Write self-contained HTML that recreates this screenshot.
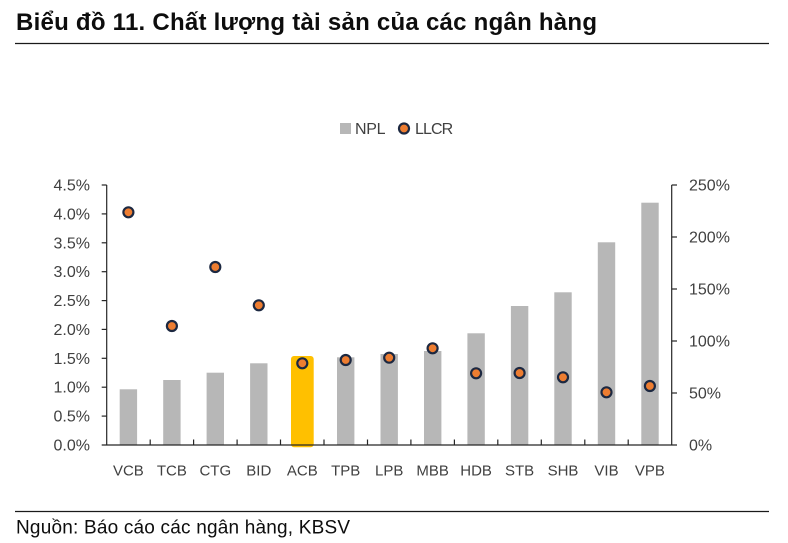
<!DOCTYPE html>
<html>
<head>
<meta charset="utf-8">
<style>
  html, body { margin:0; padding:0; background:#ffffff; }
  body { width:788px; height:543px; overflow:hidden; }
  svg { display:block; }
  text { font-family: "Liberation Sans", "Noto Sans CJK SC", sans-serif; }
</style>
</head>
<body>
<svg width="788" height="543" viewBox="0 0 788 543" xmlns="http://www.w3.org/2000/svg">
  <rect width="788" height="543" fill="#ffffff"/>

  <!-- Title -->
  <text x="16" y="30" font-size="24" font-weight="bold" fill="#0d0d0d" letter-spacing="0.25">Biểu đồ 11. Chất lượng tài sản của các ngân hàng</text>
  <line x1="15" y1="43.5" x2="769" y2="43.5" stroke="#1a1a1a" stroke-width="1.3"/>

  <!-- Legend -->
  <rect x="340" y="123" width="11" height="11" fill="#b7b7b7"/>
  <text x="355" y="134" font-size="16" fill="#404040" letter-spacing="-0.3">NPL</text>
  <circle cx="404" cy="128.5" r="5" fill="#ed7d31" stroke="#1c2841" stroke-width="2.2"/>
  <text x="415" y="134" font-size="16" fill="#404040" letter-spacing="-0.9">LLCR</text>

  <!-- Bars (NPL) -->
  <g fill="#b7b7b7">
    <rect x="119.7" y="389.3" width="17.4" height="55.7"/>
    <rect x="163.2" y="380" width="17.4" height="65"/>
    <rect x="206.6" y="372.7" width="17.4" height="72.3"/>
    <rect x="250.1" y="363.3" width="17.4" height="81.7"/>
    <rect x="337" y="357.3" width="17.4" height="87.7"/>
    <rect x="380.5" y="354" width="17.4" height="91"/>
    <rect x="424" y="351" width="17.4" height="94"/>
    <rect x="467.4" y="333.3" width="17.4" height="111.7"/>
    <rect x="510.9" y="306" width="17.4" height="139"/>
    <rect x="554.3" y="292.3" width="17.4" height="152.7"/>
    <rect x="597.8" y="242.3" width="17.4" height="202.7"/>
    <rect x="641.3" y="202.7" width="17.4" height="242.3"/>
  </g>
  <!-- Highlighted ACB -->
  <rect x="291" y="356" width="22.7" height="91.3" rx="3" ry="3" fill="#ffc000"/>

  <!-- Axes -->
  <g stroke="#262626" stroke-width="1.2">
    <line x1="106.7" y1="185" x2="106.7" y2="445"/>
    <line x1="101.7" y1="185" x2="106.7" y2="185"/>
    <line x1="101.7" y1="213.9" x2="106.7" y2="213.9"/>
    <line x1="101.7" y1="242.8" x2="106.7" y2="242.8"/>
    <line x1="101.7" y1="271.7" x2="106.7" y2="271.7"/>
    <line x1="101.7" y1="300.6" x2="106.7" y2="300.6"/>
    <line x1="101.7" y1="329.4" x2="106.7" y2="329.4"/>
    <line x1="101.7" y1="358.3" x2="106.7" y2="358.3"/>
    <line x1="101.7" y1="387.2" x2="106.7" y2="387.2"/>
    <line x1="101.7" y1="416.1" x2="106.7" y2="416.1"/>
    <line x1="101.7" y1="445" x2="677" y2="445"/>
    <line x1="671.7" y1="185" x2="671.7" y2="445"/>
    <line x1="671.7" y1="185" x2="677" y2="185"/>
    <line x1="671.7" y1="237" x2="677" y2="237"/>
    <line x1="671.7" y1="289" x2="677" y2="289"/>
    <line x1="671.7" y1="341" x2="677" y2="341"/>
    <line x1="671.7" y1="393" x2="677" y2="393"/>
    <line x1="150.2" y1="439.5" x2="150.2" y2="445"/>
    <line x1="193.6" y1="439.5" x2="193.6" y2="445"/>
    <line x1="237.1" y1="439.5" x2="237.1" y2="445"/>
    <line x1="280.5" y1="439.5" x2="280.5" y2="445"/>
    <line x1="324" y1="439.5" x2="324" y2="445"/>
    <line x1="367.5" y1="439.5" x2="367.5" y2="445"/>
    <line x1="410.9" y1="439.5" x2="410.9" y2="445"/>
    <line x1="454.4" y1="439.5" x2="454.4" y2="445"/>
    <line x1="497.8" y1="439.5" x2="497.8" y2="445"/>
    <line x1="541.3" y1="439.5" x2="541.3" y2="445"/>
    <line x1="584.8" y1="439.5" x2="584.8" y2="445"/>
    <line x1="628.2" y1="439.5" x2="628.2" y2="445"/>
  </g>

  <!-- Left tick labels -->
  <g font-size="16" fill="#404040" text-anchor="end">
    <text x="90" y="190.5">4.5%</text>
    <text x="90" y="219.4">4.0%</text>
    <text x="90" y="248.3">3.5%</text>
    <text x="90" y="277.2">3.0%</text>
    <text x="90" y="306.1">2.5%</text>
    <text x="90" y="334.9">2.0%</text>
    <text x="90" y="363.8">1.5%</text>
    <text x="90" y="392.7">1.0%</text>
    <text x="90" y="421.6">0.5%</text>
    <text x="90" y="450.5">0.0%</text>
  </g>

  <!-- Right tick labels -->
  <g font-size="16" fill="#404040">
    <text x="689" y="190.5">250%</text>
    <text x="689" y="242.5">200%</text>
    <text x="689" y="294.5">150%</text>
    <text x="689" y="346.5">100%</text>
    <text x="689" y="398.5">50%</text>
    <text x="689" y="450.5">0%</text>
  </g>

  <!-- Category labels -->
  <g font-size="15" fill="#404040" text-anchor="middle">
    <text x="128.4" y="475.5">VCB</text>
    <text x="171.9" y="475.5">TCB</text>
    <text x="215.3" y="475.5">CTG</text>
    <text x="258.8" y="475.5">BID</text>
    <text x="302.3" y="475.5">ACB</text>
    <text x="345.7" y="475.5">TPB</text>
    <text x="389.2" y="475.5">LPB</text>
    <text x="432.6" y="475.5">MBB</text>
    <text x="476.1" y="475.5">HDB</text>
    <text x="519.6" y="475.5">STB</text>
    <text x="563" y="475.5">SHB</text>
    <text x="606.5" y="475.5">VIB</text>
    <text x="649.9" y="475.5">VPB</text>
  </g>

  <!-- LLCR dots -->
  <g fill="#ed7d31" stroke="#1c2841" stroke-width="2.2">
    <circle cx="128.4" cy="212.3" r="5"/>
    <circle cx="171.9" cy="326" r="5"/>
    <circle cx="215.3" cy="267" r="5"/>
    <circle cx="258.8" cy="305.3" r="5"/>
    <circle cx="302.3" cy="363.3" r="5"/>
    <circle cx="345.7" cy="360" r="5"/>
    <circle cx="389.2" cy="357.7" r="5"/>
    <circle cx="432.6" cy="348.3" r="5"/>
    <circle cx="476.1" cy="373.3" r="5"/>
    <circle cx="519.6" cy="373" r="5"/>
    <circle cx="563" cy="377.3" r="5"/>
    <circle cx="606.5" cy="392.3" r="5"/>
    <circle cx="649.9" cy="386" r="5"/>
  </g>

  <!-- Source -->
  <line x1="15" y1="511.5" x2="769" y2="511.5" stroke="#1a1a1a" stroke-width="1.3"/>
  <text x="16" y="533.5" font-size="19" fill="#0d0d0d" letter-spacing="0.2">Nguồn: Báo cáo các ngân hàng, KBSV</text>
</svg>
</body>
</html>
